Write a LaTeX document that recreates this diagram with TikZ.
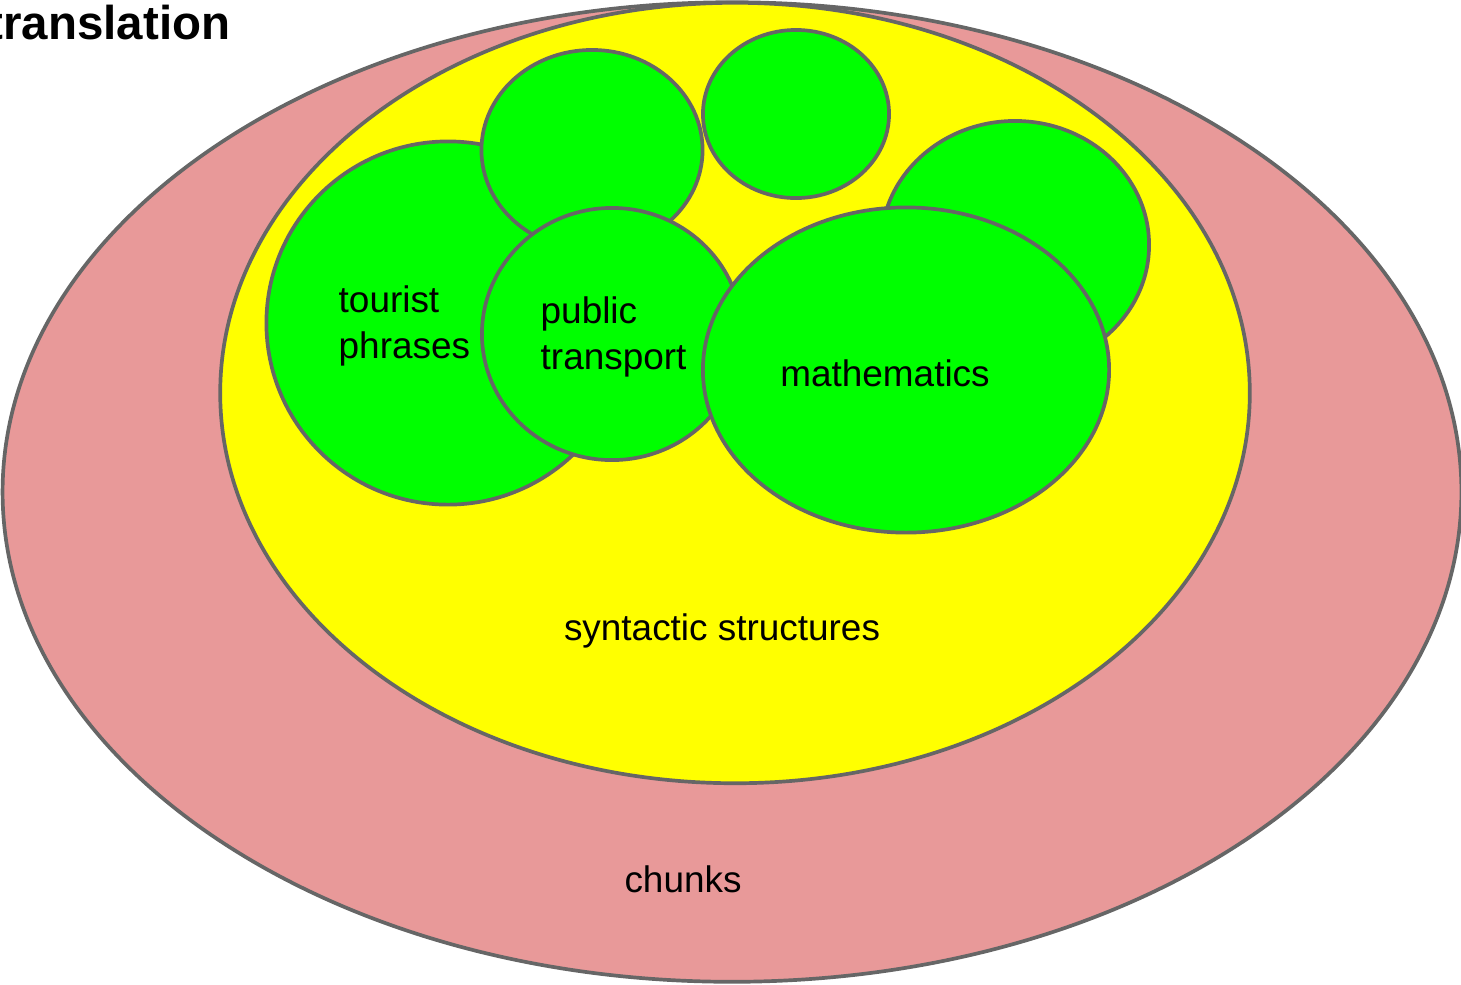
\documentclass[tikz,border=0pt]{standalone}
\usepackage{fontspec}
\setmainfont{Liberation Sans}
\usetikzlibrary{positioning,shapes.geometric}
\definecolor{chunkpink}{HTML}{E89999}
\definecolor{synyellow}{HTML}{FFFF00}
\definecolor{topicgreen}{HTML}{00FF00}
\definecolor{rimgray}{HTML}{666666}

\begin{document}
\begin{tikzpicture}[x=0.01cm, y=-0.01cm,
    blob/.style={ellipse, draw=rimgray, line width=1.05pt, inner sep=0pt},
    topic/.style={blob, fill=topicgreen},
    lbl/.style={font=\fontsize{10.5}{12.9}\selectfont, align=left, inner sep=0pt}
  ]
    \useasboundingbox (0,0) rectangle (1461,984);

    \node[blob, fill=chunkpink, minimum width=14.58cm, minimum height=9.79cm] (chunks) at (732,492) {};
    \node[blob, fill=synyellow, minimum width=10.29cm, minimum height=7.80cm] (syntax) at (735,393) {};

    \node[topic, minimum width=3.63cm, minimum height=3.63cm] (tourist) at (448,323) {};
    \node[topic, minimum width=2.21cm, minimum height=2.00cm] (topa) at (592,150) {};
    \node[topic, minimum width=1.86cm, minimum height=1.68cm] (topb) at (796,114) {};
    \node[topic, minimum width=2.68cm, minimum height=2.48cm] (topc) at (1015,245) {};
    \node[topic, minimum width=2.60cm, minimum height=2.52cm] (transport) at (612,334) {};
    \node[topic, minimum width=4.06cm, minimum height=3.25cm] (maths) at (906,370) {};

    \node[lbl, anchor=west] (touristlbl) at (338,326) {tourist\\phrases};
    \node[lbl, anchor=west] (transportlbl) at (540,337) {public\\transport};
    \node[lbl] (mathslbl) at (885,373) {mathematics};
    \node[lbl] (syntaxlbl) at (722,631) {syntactic structures};
    \node[lbl] (chunkslbl) at (683,879) {chunks};

    \node[font=\fontsize{13.5}{16}\selectfont\bfseries, inner sep=0pt, anchor=east] (title) at (231,23) {translation};
\end{tikzpicture}
\end{document}
